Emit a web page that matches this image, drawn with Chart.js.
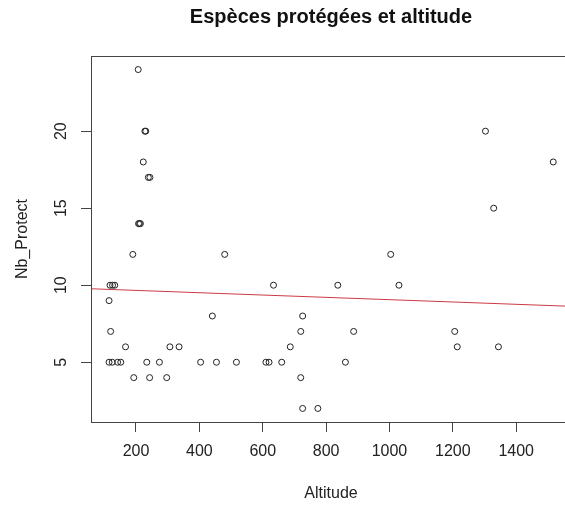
<!DOCTYPE html>
<html>
<head>
<meta charset="utf-8">
<script src="https://cdn.jsdelivr.net/npm/chart.js@4.4.1/dist/chart.umd.min.js"></script>
<style>
  html, body { margin: 0; padding: 0; background: #fff; overflow: hidden; }
  #wrap { width: 580px; height: 506px; }
</style>
</head>
<body>
<div id="wrap"><canvas id="chart" width="580" height="506"></canvas></div>
<script>
// Données
var altitude = [115, 120, 118, 126, 133, 115, 125, 142, 152, 167, 190, 193, 207, 208, 211, 214,
  223, 228, 231, 234, 239, 244, 243, 274, 297, 307, 336, 404, 441, 454, 480, 517, 610, 620,
  634, 660, 687, 720, 720, 726, 726, 774, 837, 861, 887, 1004, 1030, 1206, 1214, 1303, 1329, 1344, 1517]
var nbProtect = [9, 7, 10, 10, 10, 5, 5, 5, 5, 6, 12, 4, 24, 14, 14, 14,
  18, 20, 20, 5, 17, 17, 4, 5, 4, 6, 6, 5, 8, 5, 12, 5, 5, 5,
  10, 5, 6, 7, 4, 8, 2, 2, 10, 5, 7, 12, 10, 7, 6, 20, 15, 6, 18]

// Droite de régression (extrémités lues)
var regX = [58, 1573]
var regY = [9.77, 8.63]

// Graduations
var xTicks = [200, 400, 600, 800, 1000, 1200, 1400]
var yTicks = [5, 10, 15, 20]

var fontFamily = "'Liberation Sans', Arial, sans-serif"
var textColor = "#222"
var axisColor = "#444"

Chart.defaults.font.family = fontFamily

// Cadre et étiquettes verticales de l'axe Y
var rBox = {
  id: 'rBox',
  afterDraw: function (chart) {
    var ctx = chart.ctx
    var a = chart.chartArea
    ctx.save()
    ctx.strokeStyle = axisColor
    ctx.lineWidth = 1
    ctx.strokeRect(Math.round(a.left) + 0.5, Math.round(a.top) + 0.5,
      Math.round(a.right - a.left), Math.round(a.bottom - a.top))

    var y = chart.scales.y
    ctx.fillStyle = textColor
    ctx.font = "16px " + fontFamily
    ctx.textAlign = "center"
    ctx.textBaseline = "middle"
    yTicks.forEach(function (v) {
      ctx.save()
      ctx.translate(62, y.getPixelForValue(v))
      ctx.rotate(-Math.PI / 2)
      ctx.fillText(String(v), 0, 0)
      ctx.restore()
    })
    ctx.restore()
  }
}

var points = altitude.map(function (x, i) { return { x: x, y: nbProtect[i] } })
var regLine = regX.map(function (x, i) { return { x: x, y: regY[i] } })

new Chart(document.getElementById("chart"), {
  type: 'scatter',
  data: {
    datasets: [{
      data: points,
      pointStyle: 'circle',
      pointRadius: 3,
      borderWidth: 1,
      borderColor: '#222',
      backgroundColor: 'rgba(0,0,0,0)'
    }, {
      type: 'line',
      data: regLine,
      borderColor: '#cc3a44',
      borderWidth: 1,
      pointRadius: 0,
      fill: false
    }]
  },
  options: {
    responsive: false,
    animation: false,
    devicePixelRatio: 1,
    layout: { padding: { left: 0, top: 0, right: 9, bottom: 0 } },
    plugins: {
      legend: { display: false },
      tooltip: { enabled: false },
      title: {
        display: true,
        text: 'Espèces protégées et altitude',
        fullSize: false,
        color: '#111',
        font: { size: 20, weight: 'bold' },
        padding: { top: 5, bottom: 27 }
      }
    },
    scales: {
      x: {
        type: 'linear',
        min: 58,
        max: 1573,
        afterFit: function (s) { s.height = 84 },
        afterBuildTicks: function (s) { s.ticks = xTicks.map(function (v) { return { value: v } }) },
        grid: { drawOnChartArea: false, drawTicks: true, tickLength: 10, color: axisColor },
        border: { display: false },
        ticks: {
          color: textColor, font: { size: 16 }, padding: 10, maxRotation: 0, autoSkip: false,
          callback: function (v) { return String(v) }
        },
        title: { display: true, text: 'Altitude', color: textColor, font: { size: 16 }, padding: { top: 0, bottom: 3 } }
      },
      y: {
        type: 'linear',
        min: 1.12,
        max: 24.88,
        afterFit: function (s) { s.width = 91 },
        afterBuildTicks: function (s) { s.ticks = yTicks.map(function (v) { return { value: v } }) },
        grid: { drawOnChartArea: false, drawTicks: true, tickLength: 10, color: axisColor },
        border: { display: false },
        ticks: { display: false },
        title: { display: true, text: 'Nb_Protect', color: textColor, font: { size: 16 }, padding: { top: 13, bottom: 0 } }
      }
    }
  },
  plugins: [rBox]
})
</script>
</body>
</html>
